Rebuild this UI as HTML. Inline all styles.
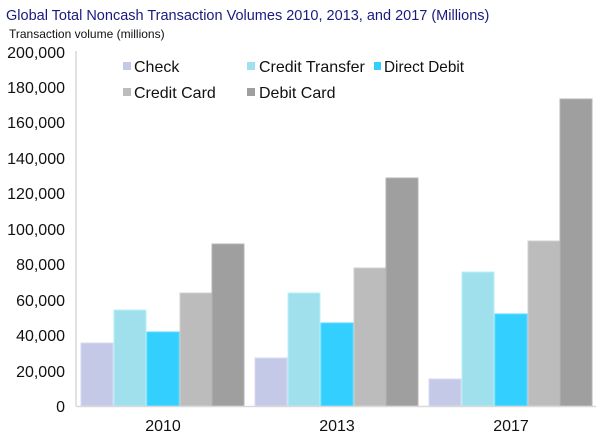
<!DOCTYPE html>
<html><head><meta charset="utf-8"><style>
body{margin:0;background:#fff;}
svg text{font-family:"Liberation Sans",Arial,sans-serif;}
</style></head><body>
<svg width="600" height="439" viewBox="0 0 600 439" xmlns="http://www.w3.org/2000/svg">
<text x="6" y="20" font-size="14.5" fill="#1a1a80">Global Total Noncash Transaction Volumes 2010, 2013, and 2017 (Millions)</text>
<text x="9" y="38" font-size="12" fill="#111">Transaction volume (millions)</text>
<g font-size="16" fill="#111" text-anchor="end">
<text x="65" y="58">200,000</text>
<text x="65" y="93">180,000</text>
<text x="65" y="128">160,000</text>
<text x="65" y="164">140,000</text>
<text x="65" y="199">120,000</text>
<text x="65" y="235">100,000</text>
<text x="65" y="270">80,000</text>
<text x="65" y="306">60,000</text>
<text x="65" y="341">40,000</text>
<text x="65" y="377">20,000</text>
<text x="65" y="412">0</text>
</g>
<line x1="76" y1="51" x2="76" y2="406" stroke="#d9d9d9" stroke-width="1.5"/>
<g stroke-width="1">
<rect x="81" y="343" width="32" height="63" fill="#c5c9e8" stroke="#d8daf0"/>
<rect x="114" y="310" width="32" height="96" fill="#9fe0ec" stroke="#b8f0f8"/>
<rect x="147" y="332" width="32" height="74" fill="#33d0ff" stroke="#5adaff"/>
<rect x="180" y="293" width="32" height="113" fill="#bcbcbc" stroke="#d0d0d0"/>
<rect x="212" y="244" width="32" height="162" fill="#9f9f9f" stroke="#b5b5b5"/>
<rect x="255" y="358" width="32" height="48" fill="#c5c9e8" stroke="#d8daf0"/>
<rect x="288" y="293" width="32" height="113" fill="#9fe0ec" stroke="#b8f0f8"/>
<rect x="321" y="323" width="32" height="83" fill="#33d0ff" stroke="#5adaff"/>
<rect x="354" y="268" width="32" height="138" fill="#bcbcbc" stroke="#d0d0d0"/>
<rect x="386" y="178" width="32" height="228" fill="#9f9f9f" stroke="#b5b5b5"/>
<rect x="429" y="379" width="32" height="27" fill="#c5c9e8" stroke="#d8daf0"/>
<rect x="462" y="272" width="32" height="134" fill="#9fe0ec" stroke="#b8f0f8"/>
<rect x="495" y="314" width="32" height="92" fill="#33d0ff" stroke="#5adaff"/>
<rect x="528" y="241" width="32" height="165" fill="#bcbcbc" stroke="#d0d0d0"/>
<rect x="560" y="99" width="32" height="307" fill="#9f9f9f" stroke="#b5b5b5"/>
</g>
<line x1="76" y1="406.5" x2="596" y2="406.5" stroke="#d9d9d9" stroke-width="1.5"/>
<g font-size="16" fill="#111" text-anchor="middle">
<text x="163" y="431">2010</text>
<text x="337" y="431">2013</text>
<text x="511" y="431">2017</text>
</g>
<g font-size="16" fill="#111">
<rect x="123" y="62" width="8" height="8" fill="#c5c9e8"/><text x="134" y="72">Check</text>
<rect x="247" y="62" width="8" height="8" fill="#9fe0ec"/><text x="259" y="72">Credit Transfer</text>
<rect x="374" y="62" width="7" height="8" fill="#33d0ff"/><text x="384" y="72" textLength="80" lengthAdjust="spacingAndGlyphs">Direct Debit</text>
<rect x="123" y="88" width="8" height="8" fill="#bcbcbc"/><text x="134" y="98">Credit Card</text>
<rect x="247" y="88" width="8" height="8" fill="#9f9f9f"/><text x="259" y="98">Debit Card</text>
</g>
</svg>
</body></html>
